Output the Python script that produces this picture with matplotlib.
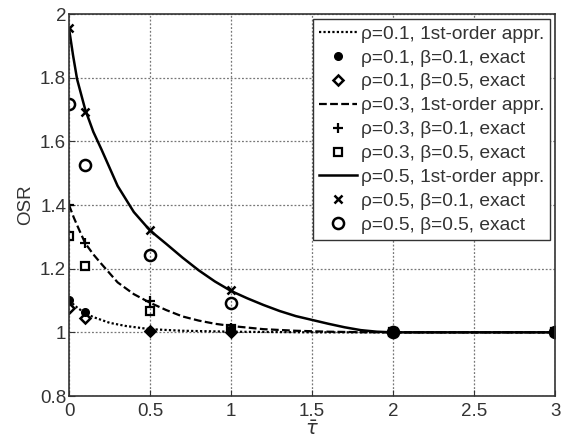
import matplotlib
matplotlib.use("Agg")
import matplotlib.pyplot as plt

plt.rcParams['font.family'] = ['Liberation Sans', 'DejaVu Sans']
plt.rcParams['mathtext.fontset'] = 'dejavusans'

# 1st-order approximation curves
tau_r01 = [0, 0.05, 0.1, 0.15, 0.25, 0.35, 0.5, 0.7, 1.0, 1.5, 2.0, 3.0]
osr_r01 = [1.10, 1.078, 1.06, 1.048, 1.03, 1.02, 1.01, 1.005, 1.002, 1.0, 1.0, 1.0]

tau_r03 = [0, 0.03, 0.06, 0.1, 0.15, 0.2, 0.3, 0.4, 0.5, 0.6, 0.7, 0.8, 0.9, 1.0, 1.2, 1.4, 1.6, 1.8, 2.0, 3.0]
osr_r03 = [1.40, 1.36, 1.325, 1.28, 1.245, 1.215, 1.157, 1.12, 1.093, 1.07, 1.05, 1.037, 1.027, 1.02,
           1.01, 1.005, 1.002, 1.0005, 1.0, 1.0]

tau_r05 = [0, 0.025, 0.05, 0.1, 0.15, 0.2, 0.3, 0.4, 0.5, 0.6, 0.7, 0.8, 0.9, 1.0, 1.1, 1.2, 1.3,
           1.4, 1.5, 1.6, 1.7, 1.8, 1.9, 2.0, 3.0]
osr_r05 = [1.955, 1.87, 1.795, 1.70, 1.63, 1.575, 1.46, 1.378, 1.32, 1.278, 1.235, 1.195, 1.16, 1.13,
           1.107, 1.086, 1.067, 1.051, 1.039, 1.027, 1.016, 1.007, 1.002, 1.0, 1.0]

# exact points
tau_pts = [0, 0.1, 0.5, 1, 2, 3]
r01_b01 = [1.103, 1.064, 1.005, 1.0, 1.0, 1.0]
r01_b05 = [1.077, 1.044, 1.005, 1.0, 1.0, 1.0]
r03_b01 = [1.40, 1.28, 1.10, 1.015, 1.0, 1.0]
r03_b05 = [1.302, 1.208, 1.066, 1.01, 1.0, 1.0]
r05_b01 = [1.957, 1.693, 1.323, 1.132, 1.0, 1.0]
r05_b05 = [1.716, 1.527, 1.242, 1.092, 1.0, 1.0]

labels = ["ρ=0.1, 1st-order appr.", "ρ=0.1, β=0.1, exact", "ρ=0.1, β=0.5, exact",
          "ρ=0.3, 1st-order appr.", "ρ=0.3, β=0.1, exact", "ρ=0.3, β=0.5, exact",
          "ρ=0.5, 1st-order appr.", "ρ=0.5, β=0.1, exact", "ρ=0.5, β=0.5, exact"]
xticks = [0, 0.5, 1, 1.5, 2, 2.5, 3]
yticks = [0.8, 1, 1.2, 1.4, 1.6, 1.8, 2]
xtick_labels = ["0", "0.5", "1", "1.5", "2", "2.5", "3"]
ytick_labels = ["0.8", "1", "1.2", "1.4", "1.6", "1.8", "2"]

fig = plt.figure(figsize=(5.62, 4.40), dpi=100)
ax = fig.add_axes([0.1228, 0.1, 0.865, 0.868])

k = 'black'
ax.plot(tau_r01, osr_r01, ls=(0, (1, 1)), color=k, lw=1.6, label=labels[0])
ax.plot(tau_pts, r01_b01, ls='none', marker='o', ms=5.5, color=k, label=labels[1])
ax.plot(tau_pts, r01_b05, ls='none', marker='D', ms=5.5, mfc='none', mec=k, mew=1.8, label=labels[2])
ax.plot(tau_r03, osr_r03, ls=(0, (3.5, 1.5)), color=k, lw=1.6, label=labels[3])
ax.plot(tau_pts, r03_b01, ls='none', marker='+', ms=7, color=k, mew=1.6, label=labels[4])
ax.plot(tau_pts, r03_b05, ls='none', marker='s', ms=6, mfc='none', mec=k, mew=1.6, label=labels[5])
ax.plot(tau_r05, osr_r05, ls='-', color=k, lw=1.8, label=labels[6])
ax.plot(tau_pts, r05_b01, ls='none', marker='x', ms=6, color=k, mew=1.8, label=labels[7])
ax.plot(tau_pts, r05_b05, ls='none', marker='o', ms=8, mfc='none', mec=k, mew=1.8, label=labels[8])

ax.set_xlim(0, 3)
ax.set_ylim(0.8, 2)
ax.set_xticks(xticks)
ax.set_xticklabels(xtick_labels)
ax.set_yticks(yticks)
ax.set_yticklabels(ytick_labels)
ax.tick_params(direction='in', labelsize=13.5, colors='#333333', length=4, pad=2)
ax.tick_params(axis='x', pad=5)
ax.grid(True, ls=(0, (1.5, 1.5)), color='#777777', lw=0.9)
for s in ax.spines.values():
    s.set_color('#333333')
    s.set_linewidth(1.2)

ax.set_ylabel("OSR", fontsize=13.5, color='#333333', labelpad=4)
ax.set_xlabel(r"$\bar{\tau}$", fontsize=14, color='#333333', labelpad=0)

leg = ax.legend(loc='upper right', bbox_to_anchor=(0.99, 0.986), borderaxespad=0,
                fontsize=13.8, handlelength=2.0, handletextpad=0.2, labelspacing=0.34,
                borderpad=0.3, fancybox=False, framealpha=1, edgecolor='#333333')
leg.get_frame().set_linewidth(1.0)
for t in leg.get_texts():
    t.set_color('#333333')

fig.savefig("out.png", dpi=100)
